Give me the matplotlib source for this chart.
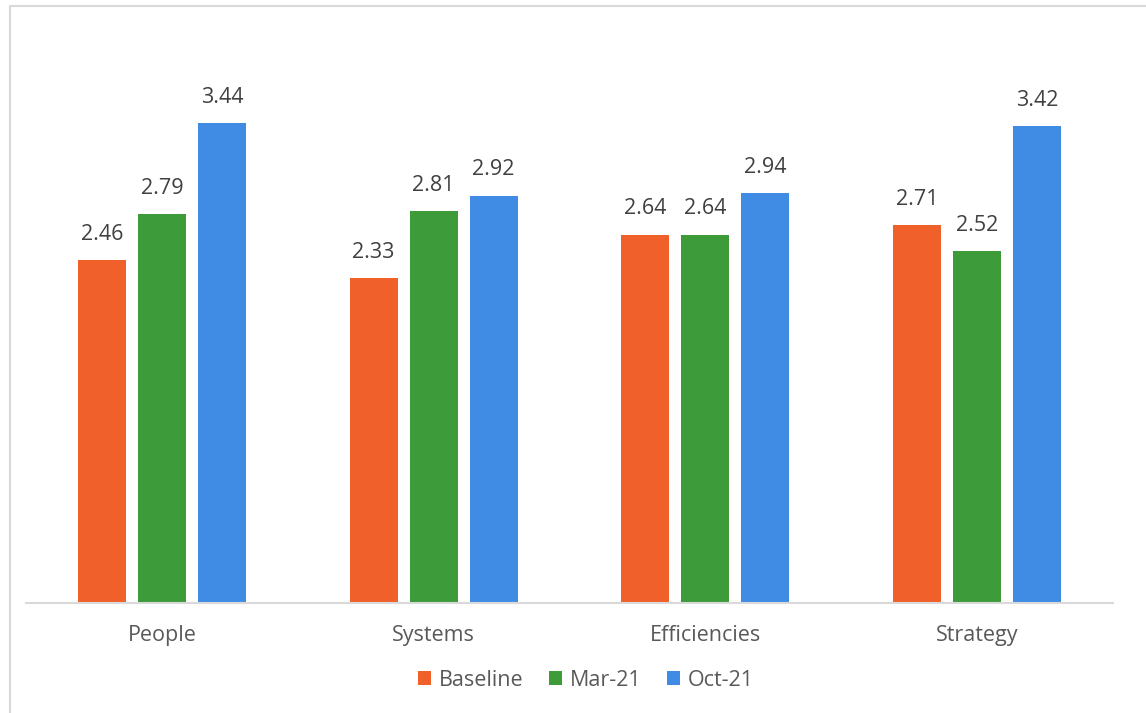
import numpy as np
import matplotlib.pyplot as plt
from matplotlib.patches import Rectangle

categories = ["People", "Systems", "Efficiencies", "Strategy"]
series_names = ["Baseline", "Mar-21", "Oct-21"]
baseline = [2.46, 2.33, 2.64, 2.71]
mar21 = [2.79, 2.81, 2.64, 2.52]
oct21 = [3.44, 2.92, 2.94, 3.42]

colors = ["#F0602B", "#3D9B3A", "#408CE5"]
plt.rcParams['font.family'] = ['Open Sans', 'DejaVu Sans']

W, H = 1146, 713
fig = plt.figure(figsize=(W / 100, H / 100), dpi=100)

# chart frame (only left and top edges are visible in the crop)
fig.patches.append(Rectangle((10 / W, -0.1), 1.2, (713 - 6) / H + 0.1,
                             transform=fig.transFigure, fill=False,
                             edgecolor="#D9D9D9", linewidth=1.5))

ax = fig.add_axes([26 / W, (H - 603) / H, 1087 / W, 558 / H])
x = np.arange(len(categories))
width = 48 / 271.75
step = 60 / 271.75

for i, (name, vals) in enumerate(zip(series_names, [baseline, mar21, oct21])):
    pos = x + (i - 1) * step
    bars = ax.bar(pos, vals, width, color=colors[i], label=name, zorder=2)
    for b, v in zip(bars, vals):
        ax.annotate(f"{v:.2f}", (b.get_x() + b.get_width() / 2, v),
                    xytext=(0, 11), textcoords="offset points",
                    ha="center", va="bottom", fontsize=15.5, color="#404040")

ax.set_xlim(-0.5, len(categories) - 0.5)
ax.set_ylim(0, 4)
ax.set_xticks(x)
ax.set_xticklabels(categories, fontsize=15.5, color="#595959")
ax.tick_params(axis="x", length=0, pad=16)
ax.set_yticks([])
for s in ["top", "right", "left"]:
    ax.spines[s].set_visible(False)
ax.spines["bottom"].set_color("#D9D9D9")
ax.spines["bottom"].set_linewidth(1.5)

fig.legend(loc="center", bbox_to_anchor=(586 / W, 1 - 680 / H), ncol=3,
           frameon=False, fontsize=15.5, handlelength=0.6, handleheight=0.6,
           handletextpad=0.35, columnspacing=1.2, labelcolor="#595959")

fig.savefig("out.png", dpi=100)
